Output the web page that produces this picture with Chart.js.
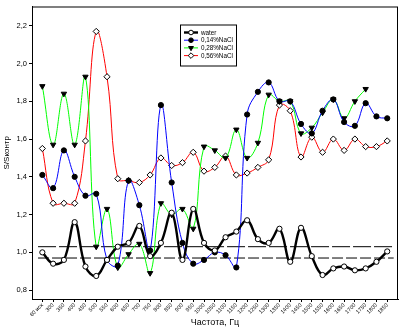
<!DOCTYPE html>
<html>
<head>
<meta charset="utf-8">
<script src="https://cdn.jsdelivr.net/npm/chart.js@4.4.1/dist/chart.umd.min.js"></script>
<style>
  html, body { margin: 0; padding: 0; background: #fff; }
  #wrap { width: 411px; height: 329px; position: relative; }
</style>
</head>
<body>
<div id="wrap"><canvas id="c"></canvas></div>
<script>
// x categories (frequency)
const freqLabels = ["60 исх", "300", "350", "400", "450", "500", "550", "600", "650", "700", "750",
  "800", "850", "900", "950", "1000", "1050", "1100", "1150", "1200", "1250", "1300",
  "1350", "1400", "1450", "1500", "1550", "1600", "1650", "1700", "1750", "1800", "1850"];

const water = [1.00, 0.94, 0.96, 1.16, 0.925, 0.875, 0.96, 1.03, 1.05, 1.14, 0.98, 1.05, 1.21,
  0.96, 1.23, 1.05, 1.01, 1.08, 1.11, 1.17, 1.07, 1.05, 1.125, 0.95, 1.13, 0.98, 0.88, 0.915,
  0.925, 0.905, 0.915, 0.95, 1.005];
const nacl014 = [1.41, 1.34, 1.54, 1.40, 1.30, 1.31, 0.96, 0.93, 1.38, 1.25, 1.01, 1.78, 1.37,
  1.05, 0.94, 0.96, 1.00, 0.985, 0.92, 1.73, 1.85, 1.90, 1.80, 1.80, 1.68, 1.63, 1.75, 1.81,
  1.69, 1.67, 1.79, 1.72, 1.71];
const nacl028 = [1.88, 1.57, 1.84, 1.57, 1.93, 1.03, 1.23, 0.92, 0.99, 1.045, 0.89, 1.26, 1.20,
  1.23, 1.125, 1.56, 1.54, 1.50, 1.65, 1.50, 1.58, 1.835, 1.80, 1.80, 1.63, 1.66, 1.74, 1.81,
  1.71, 1.80, 1.865, null, null];
const nacl056 = [1.55, 1.26, 1.26, 1.26, 1.59, 2.17, 1.93, 1.39, 1.38, 1.37, 1.41, 1.50, 1.46,
  1.475, 1.53, 1.43, 1.45, 1.51, 1.41, 1.42, 1.45, 1.49, 1.78, 1.75, 1.505, 1.61, 1.53, 1.60,
  1.54, 1.60, 1.56, 1.56, 1.59];

// the two dashed reference levels and how far they run along x (category index units)
const refLevels = [1.03, 0.97];
const refSpan = [-0.4, 32.6];

const yTicks = [0.8, 1.0, 1.2, 1.4, 1.6, 1.8, 2.0, 2.2];

const FONT = "'Liberation Sans', Arial, sans-serif";

function pts(arr) {
  return arr.map((v, i) => ({ x: i, y: v }));
}

function series(label, data, color, width, style, fill, rot, r) {
  return {
    label, data: pts(data),
    borderColor: color, borderWidth: width,
    pointStyle: style, pointRotation: rot || 0, pointRadius: r,
    pointBackgroundColor: fill, pointBorderColor: "#000", pointBorderWidth: 1,
    tension: 0.4, spanGaps: false, fill: false,
  };
}

const datasets = [
  series("water", water, "#000000", 2.4, "circle", "#fff", 0, 2.6),
  series("0,14%NaCl", nacl014, "#0000ff", 1, "circle", "#000", 0, 2.6),
  series("0,28%NaCl", nacl028, "#00ff00", 1, "triangle", "#000", 180, 3.1),
  series("0,56%NaCl", nacl056, "#ff0000", 1, "rectRot", "#fff", 0, 3.1),
];
refLevels.forEach((v, k) => {
  datasets.push({
    label: "ref" + k,
    data: refSpan.map(x => ({ x, y: v })),
    borderColor: "#000", borderWidth: 1,
    borderDash: k === 0 ? [18, 3] : [11, 3],
    pointRadius: 0, tension: 0,
  });
});

// frame round the plot + legend box inside it
const framePlugin = {
  id: "frame",
  afterDraw(chart) {
    const { ctx, chartArea: a } = chart;
    ctx.save();
    ctx.strokeStyle = "#000";
    ctx.lineWidth = 1;
    ctx.strokeRect(a.left + 0.5, a.top + 0.5, a.right - a.left - 1, a.bottom - a.top);

    // legend
    const bx = a.left + 148, by = a.top + 18, bw = 56, bh = 41;
    ctx.strokeRect(bx + 0.5, by + 0.5, bw, bh);
    ctx.font = "6.3px " + FONT;
    ctx.textBaseline = "middle";
    ctx.textAlign = "left";
    for (let i = 0; i < 4; i++) {
      const ds = chart.data.datasets[i];
      const y = by + 8 + i * 7.7;
      ctx.strokeStyle = ds.borderColor;
      ctx.lineWidth = ds.borderWidth;
      ctx.beginPath();
      ctx.moveTo(bx + 4, y);
      ctx.lineTo(bx + 18, y);
      ctx.stroke();
      ctx.fillStyle = ds.pointBackgroundColor;
      ctx.strokeStyle = "#000";
      ctx.lineWidth = 1;
      Chart.helpers.drawPoint(ctx, {
        pointStyle: ds.pointStyle, rotation: ds.pointRotation,
        radius: ds.pointRadius - 0.3, borderWidth: 1,
      }, bx + 11, y);
      ctx.fillStyle = "#000";
      ctx.fillText(ds.label, bx + 21, y + 0.5);
    }
    ctx.restore();
  },
};

new Chart(document.getElementById("c"), {
  type: "line",
  data: { datasets },
  options: {
    responsive: true, maintainAspectRatio: false, animation: false, events: [],
    layout: { padding: { top: 5, right: 13, left: 0, bottom: 0 } },
    plugins: { legend: { display: false }, tooltip: { enabled: false } },
    scales: {
      x: {
        type: "linear", min: -0.96, max: 33.0,
        afterBuildTicks: s => { s.ticks = freqLabels.map((_, i) => ({ value: i })); },
        afterFit: s => { s.height = 30; },
        ticks: {
          autoSkip: false, maxRotation: 45, minRotation: 45, padding: 0,
          color: "#000", font: { family: FONT, size: 5.5 },
          callback: v => freqLabels[v],
        },
        grid: { drawOnChartArea: false, drawTicks: true, tickLength: 3, color: "#000" },
        border: { display: true, color: "#000" },
        title: { display: true, text: "Частота, Гц", color: "#000",
                 font: { family: FONT, size: 9 }, padding: { top: 0, bottom: 1 } },
      },
      y: {
        type: "linear", min: 0.753, max: 2.302,
        afterBuildTicks: s => { s.ticks = yTicks.map(v => ({ value: v })); },
        afterFit: s => { s.width = 32; },
        ticks: {
          padding: 2, color: "#000", font: { family: FONT, size: 7.5 },
          callback: v => v.toFixed(1).replace(".", ","),
        },
        grid: { drawOnChartArea: false, drawTicks: true, tickLength: 3, color: "#000" },
        border: { display: true, color: "#000" },
        title: { display: true, text: "S/Sконтр", color: "#000",
                 font: { family: FONT, size: 8 }, padding: { top: 2, bottom: 0 } },
      },
    },
  },
  plugins: [framePlugin],
});
</script>
</body>
</html>
